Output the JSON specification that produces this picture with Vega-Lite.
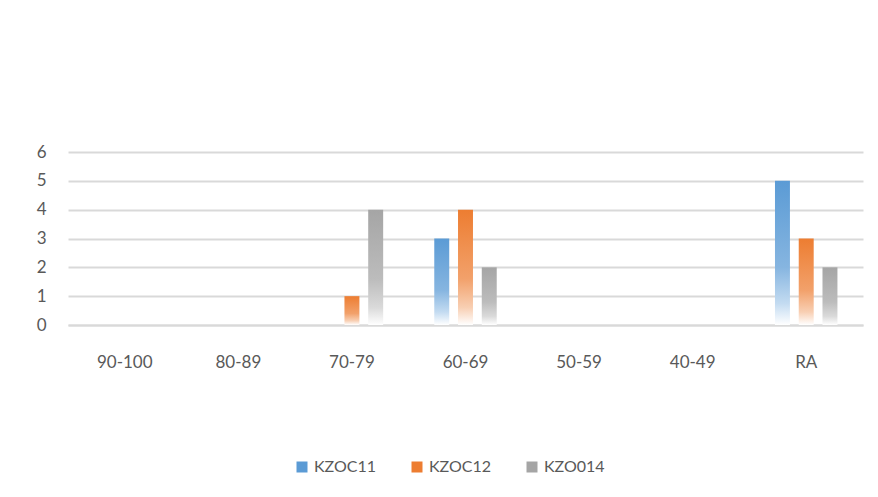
{
  "$schema": "https://vega.github.io/schema/vega-lite/v6.json",
  "width": 795,
  "height": 173,
  "autosize": {"type": "none"},
  "padding": {"left": 68, "top": 152, "right": 15, "bottom": 172},
  "background": "white",
  "data": {
    "values": [
      {"band": "90-100", "series": "KZOC11", "count": 0},
      {"band": "90-100", "series": "KZOC12", "count": 0},
      {"band": "90-100", "series": "KZO014", "count": 0},
      {"band": "80-89", "series": "KZOC11", "count": 0},
      {"band": "80-89", "series": "KZOC12", "count": 0},
      {"band": "80-89", "series": "KZO014", "count": 0},
      {"band": "70-79", "series": "KZOC11", "count": 0},
      {"band": "70-79", "series": "KZOC12", "count": 1},
      {"band": "70-79", "series": "KZO014", "count": 4},
      {"band": "60-69", "series": "KZOC11", "count": 3},
      {"band": "60-69", "series": "KZOC12", "count": 4},
      {"band": "60-69", "series": "KZO014", "count": 2},
      {"band": "50-59", "series": "KZOC11", "count": 0},
      {"band": "50-59", "series": "KZOC12", "count": 0},
      {"band": "50-59", "series": "KZO014", "count": 0},
      {"band": "40-49", "series": "KZOC11", "count": 0},
      {"band": "40-49", "series": "KZOC12", "count": 0},
      {"band": "40-49", "series": "KZO014", "count": 0},
      {"band": "RA", "series": "KZOC11", "count": 5},
      {"band": "RA", "series": "KZOC12", "count": 3},
      {"band": "RA", "series": "KZO014", "count": 2}
    ]
  },
  "encoding": {
    "x": {
      "field": "band",
      "type": "nominal",
      "sort": ["90-100", "80-89", "70-79", "60-69", "50-59", "40-49", "RA"],
      "scale": {"paddingInner": 0.45, "paddingOuter": 0.225},
      "axis": {
        "title": null,
        "labelAngle": 0,
        "ticks": false,
        "domainColor": "#d9d9d9",
        "domainWidth": 2,
        "labelPadding": 29,
        "labelFont": "Lato",
        "labelFontSize": 17,
        "labelColor": "#595959"
      }
    },
    "xOffset": {
      "field": "series",
      "type": "nominal",
      "scale": {"domain": ["KZOC11", "KZOC12", "KZO014"], "paddingInner": 0.37, "paddingOuter": 0}
    },
    "y": {
      "field": "count",
      "type": "quantitative",
      "scale": {"domain": [0, 6]},
      "axis": {
        "title": null,
        "values": [0, 1, 2, 3, 4, 5, 6],
        "domain": false,
        "ticks": false,
        "gridColor": "#d9d9d9",
        "gridWidth": 2,
        "labelPadding": 22,
        "labelFont": "Lato",
        "labelFontSize": 17,
        "labelColor": "#595959"
      }
    }
  },
  "layer": [
    {
      "mark": {"type": "bar", "opacity": 0},
      "encoding": {
        "color": {
          "field": "series",
          "type": "nominal",
          "scale": {"domain": ["KZOC11", "KZOC12", "KZO014"], "range": ["#5b9bd5", "#ed7d31", "#a5a5a5"]},
          "legend": {
            "title": null,
            "orient": "none",
            "direction": "horizontal",
            "legendX": 226,
            "legendY": 307,
            "symbolType": "square",
            "symbolSize": 121,
            "symbolOpacity": 1,
            "symbolStrokeWidth": 0,
            "columnPadding": 32,
            "labelOffset": 4,
            "labelFont": "Lato",
            "labelFontSize": 16,
            "labelColor": "#595959"
          }
        }
      }
    },
    {
      "transform": [{"filter": "datum.series === 'KZOC11'"}],
      "mark": {"type": "bar", "color": {"gradient": "linear", "x1": 0, "y1": 0, "x2": 0, "y2": 1, "stops": [{"offset": 0, "color": "#5b9bd5"}, {"offset": 0.6, "color": "#86b5e0"}, {"offset": 0.85, "color": "#c3dbf1"}, {"offset": 1, "color": "#ffffff"}]}}
    },
    {
      "transform": [{"filter": "datum.series === 'KZOC12'"}],
      "mark": {"type": "bar", "color": {"gradient": "linear", "x1": 0, "y1": 0, "x2": 0, "y2": 1, "stops": [{"offset": 0, "color": "#ed7d31"}, {"offset": 0.6, "color": "#f2a16b"}, {"offset": 0.85, "color": "#f8cfb3"}, {"offset": 1, "color": "#ffffff"}]}}
    },
    {
      "transform": [{"filter": "datum.series === 'KZO014'"}],
      "mark": {"type": "bar", "color": {"gradient": "linear", "x1": 0, "y1": 0, "x2": 0, "y2": 1, "stops": [{"offset": 0, "color": "#a5a5a5"}, {"offset": 0.6, "color": "#bcbcbc"}, {"offset": 0.85, "color": "#dadada"}, {"offset": 1, "color": "#ffffff"}]}}
    }
  ],
  "config": {"view": {"stroke": null}}
}
